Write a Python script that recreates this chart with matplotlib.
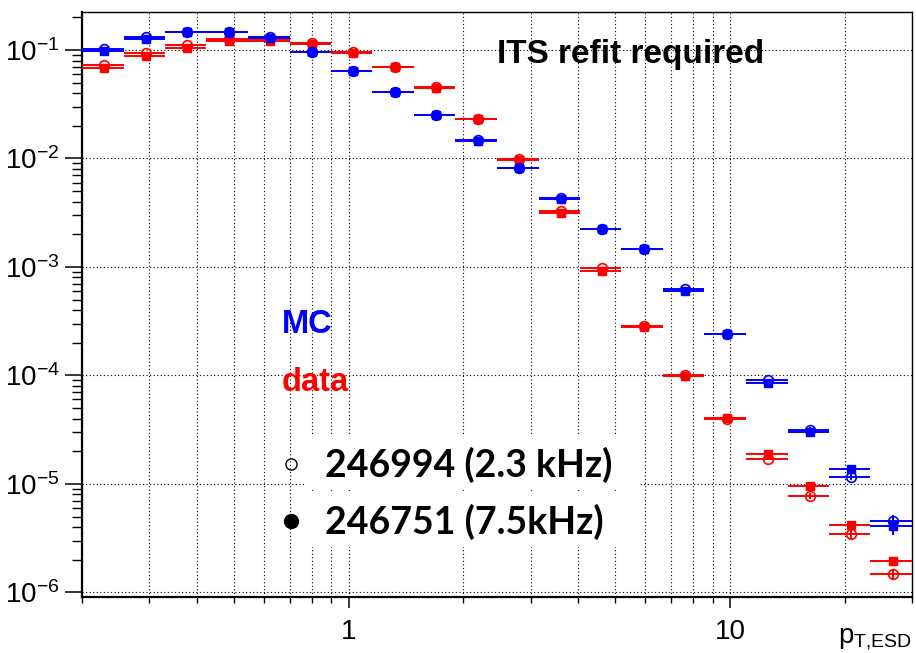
import numpy as np
import matplotlib.pyplot as plt
from matplotlib import ticker
from matplotlib.lines import Line2D
from matplotlib.patches import Rectangle

plt.rcParams['font.family'] = ['Liberation Sans', 'DejaVu Sans']
plt.rcParams['mathtext.fontset'] = 'custom'
plt.rcParams['mathtext.rm'] = 'Liberation Sans'
plt.rcParams['mathtext.it'] = 'Liberation Sans:italic'
plt.rcParams['mathtext.bf'] = 'Liberation Sans:bold'

# pT bin edges
pt_edges = [0.2, 0.257, 0.330, 0.424, 0.545, 0.700, 0.899, 1.155, 1.484, 1.906,
            2.449, 3.147, 4.043, 5.193, 6.672, 8.572, 11.01, 14.15, 18.18, 23.35, 30.0]

# run 246994 (2.3 kHz) -> open markers, run 246751 (7.5 kHz) -> filled markers
mc_246994 = [0.103, 0.132, 0.148, 0.148, 0.131, 0.0965, 0.0645, 0.0412, 0.0251, 0.0147,
             0.00815, 0.00432, 0.00224, 0.00146, 6.3e-4, 2.43e-4, 9.07e-5, 3.16e-5, 1.16e-5, 4.54e-6]
mc_246751 = [0.0989, 0.125, 0.146, 0.146, 0.129, 0.0962, 0.0643, 0.0409, 0.0249, 0.0145,
             0.0081, 0.00426, 0.00222, 0.00145, 5.96e-4, 2.41e-4, 8.45e-5, 3.0e-5, 1.36e-5, 4.09e-6]
data_246994 = [0.0727, 0.0938, 0.1105, 0.125, 0.125, 0.117, 0.0952, 0.070, 0.0453, 0.0233,
               0.0098, 0.0033, 9.7e-4, 2.85e-4, 1.0e-4, 3.94e-5, 1.705e-5, 7.72e-6, 3.42e-6, 1.475e-6]
data_246751 = [0.0683, 0.0881, 0.1054, 0.122, 0.120, 0.114, 0.0940, 0.0690, 0.0447, 0.0230,
               0.0097, 0.00312, 9.23e-4, 2.81e-4, 9.9e-5, 4.07e-5, 1.873e-5, 9.55e-6, 4.2e-6, 1.955e-6]

# statistical errors (only visible in the last bins)
mc_246994_err = [0]*17 + [1.5e-6, 0.8e-6, 0.6e-6]
mc_246751_err = [0]*17 + [1.2e-6, 0.9e-6, 0.7e-6]
data_246994_err = [0]*17 + [0.5e-6, 0.3e-6, 0.15e-6]
data_246751_err = [0]*17 + [0.5e-6, 0.3e-6, 0.15e-6]

edges = np.array(pt_edges)
xc = 0.5*(edges[:-1] + edges[1:])
xerr = [xc - edges[:-1], edges[1:] - xc]

fig = plt.figure(figsize=(9.16, 6.53), dpi=100)
ax = fig.add_axes([82/916, 1-596.5/653, 830/916, 584.5/653])

BLUE = '#0000ff'
RED = '#ff0000'

def draw(vals, err, col, filled):
    if filled:
        ax.errorbar(xc, vals, xerr=xerr, yerr=err, fmt='s', color=col, ms=5.5,
                    mec=col, mfc=col, lw=1.4, capsize=0, zorder=3)
    else:
        ax.errorbar(xc, vals, xerr=xerr, yerr=err, fmt='o', color=col, ms=7,
                    mec=col, mfc='none', mew=1.2, lw=1.4, capsize=0, zorder=3)

draw(data_246994, data_246994_err, RED, False)
draw(data_246751, data_246751_err, RED, True)
draw(mc_246994, mc_246994_err, BLUE, False)
draw(mc_246751, mc_246751_err, BLUE, True)

ax.set_xscale('log')
ax.set_yscale('log')
ax.set_xlim(0.2, 30)
ax.set_ylim(9.15e-7, 0.224)

ax.xaxis.set_major_locator(ticker.FixedLocator([1, 10]))
ax.xaxis.set_major_formatter(ticker.FixedFormatter(['1', '10']))
ax.xaxis.set_minor_locator(ticker.LogLocator(base=10, subs=np.arange(2, 10), numticks=20))
ax.xaxis.set_minor_formatter(ticker.NullFormatter())
ax.yaxis.set_major_locator(ticker.LogLocator(base=10, numticks=20))
ax.yaxis.set_minor_locator(ticker.LogLocator(base=10, subs=np.arange(2, 10), numticks=20))
ax.yaxis.set_minor_formatter(ticker.NullFormatter())

ax.tick_params(axis='y', which='major', direction='out', length=12, width=1.1,
               labelsize=20, pad=4)
ax.tick_params(axis='y', which='minor', direction='out', length=7, width=1.0)
ax.tick_params(axis='x', which='major', direction='out', length=8, width=1.1,
               labelsize=20, pad=8)
ax.tick_params(axis='x', which='minor', direction='out', length=4.5, width=1.0)

ax.grid(True, which='both', axis='x', color='black', lw=0.8, ls=(0, (1, 2.2)))
ax.grid(True, which='major', axis='y', color='black', lw=0.8, ls=(0, (1, 2.2)))
ax.set_axisbelow(True)

for s in ['left', 'bottom']:
    ax.spines[s].set_linewidth(1.6)
for s in ['top', 'right']:
    ax.spines[s].set_linewidth(1.0)

ax.set_xlabel(r'$\mathrm{p}_{\mathrm{T{,}ESD}}$', loc='right', fontsize=20)
ax.xaxis.set_label_coords(1.0, -0.05)

ax.text(0.5, 0.928, 'ITS refit required', transform=ax.transAxes, fontsize=24,
        fontweight='bold', ha='left', va='center', color='black')
ax.text(0.241, 0.451, 'MC', transform=ax.transAxes, fontsize=23.5,
        fontweight='bold', color=BLUE, ha='left', va='baseline')
ax.text(0.240, 0.3515, 'data', transform=ax.transAxes, fontsize=23.5,
        fontweight='bold', color=RED, ha='left', va='baseline')

# white boxes behind the run labels
for y0, y1 in [(490, 435), (547, 492)]:
    ax.add_patch(Rectangle(((305-82)/830, (596.5-y0)/584.5), (640-305)/830, (y0-y1)/584.5,
                           transform=ax.transAxes, facecolor='white', edgecolor='none', zorder=1))

handles = [Line2D([], [], ls='none', marker='o', ms=8, mfc='none', mec='black', mew=1.0),
           Line2D([], [], ls='none', marker='o', ms=10, mfc='black', mec='black')]
leg = ax.legend(handles, ['246994 (2.3 kHz)', '246751 (7.5kHz)'],
                loc='upper left', bbox_to_anchor=((272-82)/830, (596.5-447)/584.5),
                frameon=False, borderpad=0, borderaxespad=0, handlelength=1.0,
                handletextpad=0.42, labelspacing=0.55,
                prop={'family': 'Lato', 'weight': 'bold', 'size': 27})
leg.set_zorder(5)

fig.savefig('out.png', dpi=100)
